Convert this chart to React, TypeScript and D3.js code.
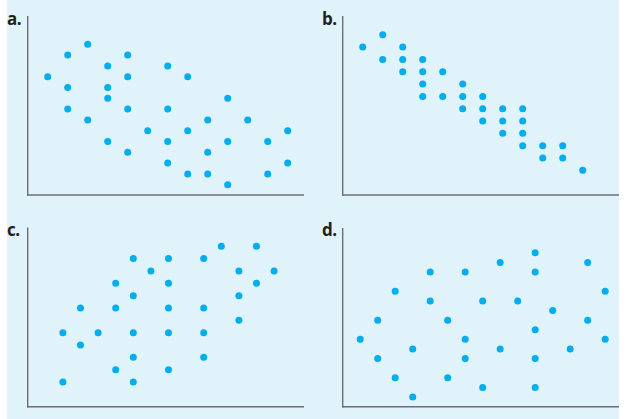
import React from "react";
import * as d3 from "d3";

// Panel data: [x, y] in grid units
const pointsA: [number, number][] = [
  [1, 11],
  [2, 13], [2, 10], [2, 8],
  [3, 14], [3, 7],
  [4, 12], [4, 10], [4, 9], [4, 5],
  [5, 13], [5, 11], [5, 8], [5, 4],
  [6, 6],
  [7, 12], [7, 8], [7, 5], [7, 3],
  [8, 11], [8, 6], [8, 2],
  [9, 7], [9, 4], [9, 2],
  [10, 9], [10, 5], [10, 1],
  [11, 7],
  [12, 5], [12, 2],
  [13, 6], [13, 3],
];

const pointsB: [number, number][] = [
  [1, 12],
  [2, 13], [2, 11],
  [3, 12], [3, 11], [3, 10],
  [4, 11], [4, 10], [4, 9], [4, 8],
  [5, 10], [5, 8],
  [6, 9], [6, 8], [6, 7],
  [7, 8], [7, 7], [7, 6],
  [8, 7], [8, 6], [8, 5],
  [9, 7], [9, 6], [9, 5], [9, 4],
  [10, 4], [10, 3],
  [11, 4], [11, 3],
  [12, 2],
];

const pointsC: [number, number][] = [
  [11, 13], [13, 13],
  [6, 12], [8, 12], [10, 12],
  [7, 11], [12, 11], [14, 11],
  [5, 10], [8, 10], [13, 10],
  [6, 9], [12, 9],
  [3, 8], [5, 8], [8, 8], [10, 8],
  [12, 7],
  [2, 6], [4, 6], [6, 6], [8, 6], [10, 6],
  [3, 5],
  [6, 4], [10, 4],
  [5, 3], [8, 3],
  [2, 2], [6, 2],
];

const pointsD: [number, number][] = [
  [11, 16],
  [9, 15], [14, 15],
  [5, 14], [7, 14], [11, 14],
  [3, 12], [15, 12],
  [5, 11], [8, 11], [10, 11],
  [12, 10],
  [2, 9], [6, 9], [14, 9],
  [11, 8],
  [1, 7], [7, 7], [15, 7],
  [4, 6], [9, 6], [13, 6],
  [2, 5], [7, 5], [11, 5],
  [3, 3], [6, 3],
  [8, 2], [11, 2],
  [4, 1],
];

const panelLabels = ["a.", "b.", "c.", "d."];

const W = 630;
const H = 419;
const DOT = "#00AEEF";
const AXIS = "#6d6e71";
const BG = "#E0F2FA";

type Panel = {
  label: string;
  points: [number, number][];
  ox: number;
  labelY: number;
  xDomain: [number, number];
  yDomain: [number, number];
  yTop: number;
  yBottom: number;
};

const panels: Panel[] = [
  { label: panelLabels[0], points: pointsA, ox: 0, labelY: 25, xDomain: [0, 13.815], yDomain: [0.046, 16.62], yTop: 16, yBottom: 195 },
  { label: panelLabels[1], points: pointsB, ox: 315, labelY: 25, xDomain: [0, 13.815], yDomain: [0, 14.52], yTop: 16, yBottom: 195 },
  { label: panelLabels[2], points: pointsC, ox: 0, labelY: 236, xDomain: [0, 15.7], yDomain: [0, 14.52], yTop: 227.5, yBottom: 406.7 },
  { label: panelLabels[3], points: pointsD, ox: 315, labelY: 236, xDomain: [0, 15.79], yDomain: [0, 18.58], yTop: 228, yBottom: 406.7 },
];

function PanelView({ p }: { p: Panel }) {
  const x0 = 27.7 + p.ox;
  const x1 = 304 + p.ox;
  const x = d3.scaleLinear().domain(p.xDomain).range([x0, x1]);
  const y = d3.scaleLinear().domain(p.yDomain).range([p.yBottom, p.yTop]);
  return (
    <g>
      <text
        x={p.ox + 7}
        y={p.labelY}
        fontFamily="'Open Sans', sans-serif"
        fontWeight={700}
        fontSize={17}
        letterSpacing={-0.6}
        fill="#231f20"
      >
        {p.label}
      </text>
      <line x1={x0} x2={x0} y1={p.yTop} y2={p.yBottom + 0.7} stroke={AXIS} strokeWidth={1.4} />
      <line x1={x0 - 0.7} x2={x1} y1={p.yBottom} y2={p.yBottom} stroke={AXIS} strokeWidth={1.4} />
      {p.points.map((d, i) => (
        <circle key={i} cx={x(d[0])} cy={y(d[1])} r={3.5} fill={DOT} />
      ))}
    </g>
  );
}

export default function App() {
  return (
    <svg
      width={W}
      height={H}
      style={{ position: "absolute", left: 0, top: 0, display: "block" }}
    >
      <rect x={0} y={0} width={W} height={H} fill="#ffffff" />
      <rect x={7} y={0} width={612} height={H} fill={BG} />
      {panels.map((p, i) => (
        <PanelView key={i} p={p} />
      ))}
    </svg>
  );
}
